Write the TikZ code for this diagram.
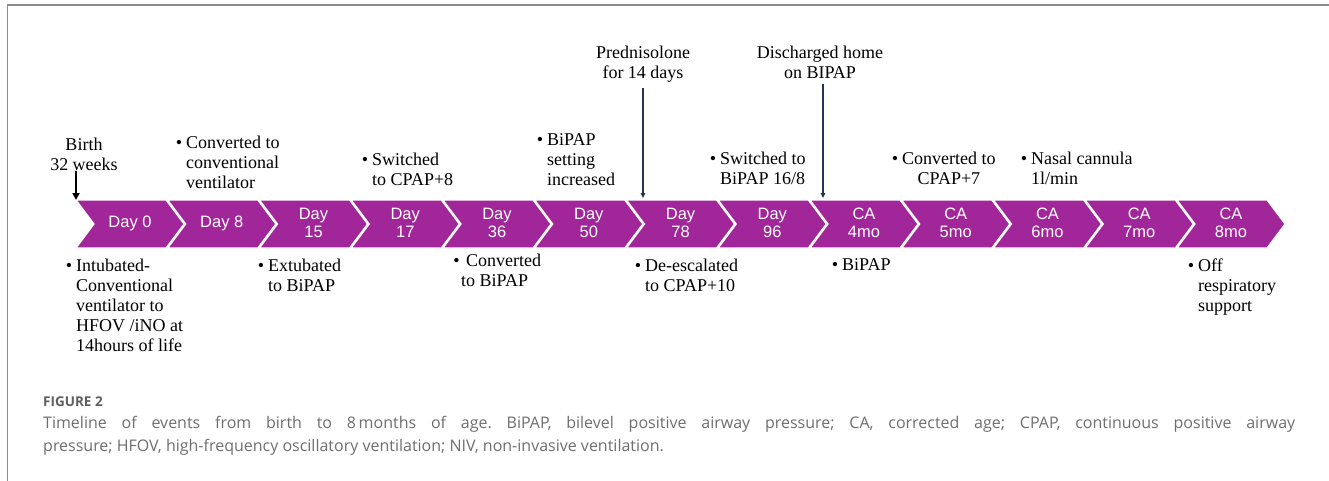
\documentclass[tikz,border=0pt]{standalone}
\usepackage{fontspec}
\setmainfont{Liberation Serif}
\newfontfamily\daysf{Liberation Sans}
\newfontfamily\capsf{Open Sans}
\usetikzlibrary{arrows.meta}
\definecolor{chevpurple}{RGB}{161,38,153}
\definecolor{navyarr}{RGB}{38,50,78}
\definecolor{capgray}{RGB}{110,110,110}
\definecolor{framegray}{RGB}{140,140,140}
\newcommand\bul{\llap{\textbullet\hspace{4pt}}}

\begin{document}
\begin{tikzpicture}[x=1pt,y=-1pt,
    chev/.style={fill=chevpurple,draw=white,line width=1.2pt,line join=miter},
    daylab/.style={text=white,font=\daysf\fontsize{16.5}{18}\selectfont,align=center,inner sep=0pt},
    evt/.style={anchor=north west,inner sep=0pt,align=left,font=\fontsize{18}{20}\selectfont},
    evtc/.style={anchor=north,inner sep=0pt,align=center,font=\fontsize{18}{20}\selectfont},
    navarr/.style={navyarr,line width=1.1pt,-{Triangle[length=5pt,width=4.5pt]}},
    birtharr/.style={black,line width=1.8pt,-{Triangle[length=7pt,width=7pt]}}]
  \useasboundingbox (0,0) rectangle (1329,481);

  %% frame
  \draw[framegray,line width=1.2pt] (7.5,481) -- (7.5,5) -- (1329,5);

  %% chevrons
  \foreach \i/\lab in {0/{Day 0},1/{Day 8},2/{Day\\15},3/{Day\\17},4/{Day\\36},
      5/{Day\\50},6/{Day\\78},7/{Day\\96},8/{CA\\4mo},9/{CA\\5mo},10/{CA\\6mo},
      11/{CA\\7mo},12/{CA\\8mo}}{
    \pgfmathsetmacro\xl{76+91.75*\i}
    \draw[chev] (\xl,200) -- (\xl+90,200) -- (\xl+108,224) -- (\xl+90,248)
      -- (\xl,248) -- (\xl+18,224) -- cycle;
    \node[daylab] (d\i) at (\xl+54,223) {\lab};
    \coordinate (t\i) at (\xl,200);
  }

  %% events above
  \node[evtc] (birth) at (84,138) {Birth\\32 weeks};
  \node[evt] (conv) at (186,136) {\bul Converted to\\conventional\\ventilator};
  \node[evt] (swcpap) at (372,153) {\bul Switched\\to CPAP+8};
  \node[evt] (bipinc) at (547,133) {\bul BiPAP\\setting\\increased};
  \node[evtc] (pred) at (643,46) {Prednisolone\\for 14 days};
  \node[evtc] (disch) at (820,46) {Discharged home\\on BIPAP};
  \node[evt] (swbip) at (720,152) {\bul Switched to\\BiPAP 16/8};
  \node[evt,align=center] (cpap7) at (902,152) {\bul Converted to\\CPAP+7};
  \node[evt] (nasal) at (1031,152) {\bul Nasal cannula\\1l/min};

  %% events below
  \node[evt] (intub) at (76,259) {\bul Intubated-\\Conventional\\ventilator to\\HFOV /iNO at\\14hours of life};
  \node[evt] (extub) at (268,259) {\bul Extubated\\to BiPAP};
  \node[evt] (convbip) at (461,254) {\llap{\textbullet\hspace{1.5pt}}\hspace{5pt}Converted\\to BiPAP};
  \node[evt] (deesc) at (645,259) {\bul De-escalated\\to CPAP+10};
  \node[evt] (bip4) at (842,258) {\bul BiPAP};
  \node[evt] (off) at (1198,259) {\bul Off\\respiratory\\support};

  %% arrows
  \coordinate (p6) at (643,198);
  \coordinate (p8) at (823,198);
  \draw[birtharr] (t0 |- birth.south) -- (t0);
  \draw[navarr,shorten <=5pt] (pred.south) -- (p6);
  \draw[navarr,shorten <=5pt] (disch.south -| p8) -- (p8);

  %% caption
  \node[anchor=north west,inner sep=0pt,text=capgray!85!black,
    font=\capsf\bfseries\fontsize{13.5}{16}\selectfont] (fig) at (43,397) {FIGURE 2};
  \node[anchor=north west,inner sep=0pt,text=capgray,text width=1252pt,align=justify,
    font=\capsf\fontsize{16}{23}\selectfont] (cap) at (43,416)
    {\frenchspacing Timeline of events from birth to 8\,months of age. BiPAP, bilevel positive airway pressure; CA, corrected age; CPAP, continuous positive airway\linebreak pressure; HFOV, high-frequency oscillatory ventilation; NIV, non-invasive ventilation.};
\end{tikzpicture}
\end{document}
